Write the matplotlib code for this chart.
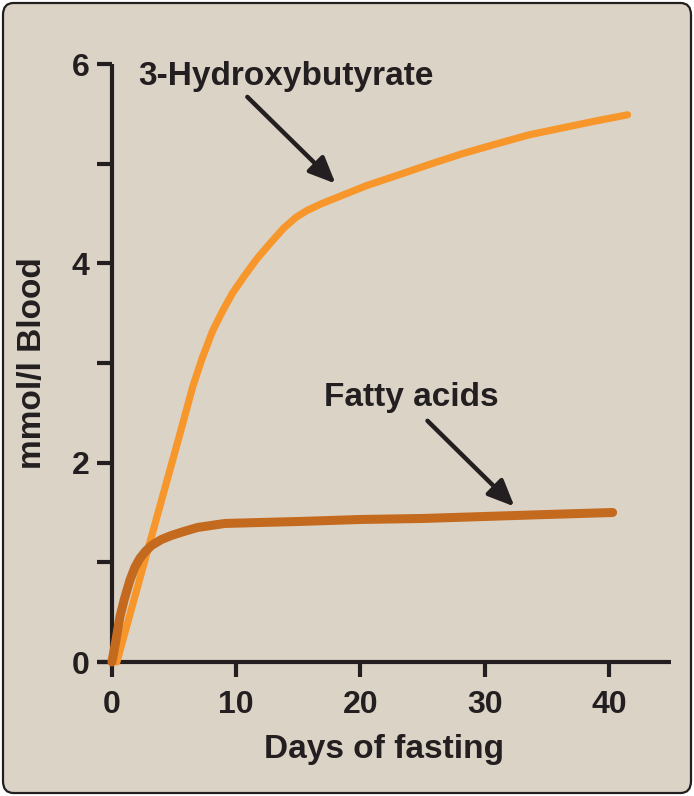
import matplotlib
matplotlib.use("Agg")
import matplotlib.pyplot as plt
from matplotlib.patches import FancyBboxPatch

# ---- data ----
hb_days = [0.4, 1.5, 2.5, 3.5, 4.5, 5.5, 6.5, 7.3, 8.1, 8.9, 9.7, 10.7, 11.7, 12.8,
           13.8, 14.8, 15.7, 16.9, 18.1, 20.5, 22.9, 25.5, 28.2, 31.0, 33.6, 36.3,
           39.0, 41.5]
hb_vals = [0.0, 0.50, 0.95, 1.40, 1.85, 2.30, 2.76, 3.06, 3.32, 3.52, 3.70, 3.88,
           4.05, 4.21, 4.35, 4.46, 4.53, 4.60, 4.66, 4.78, 4.88, 4.99, 5.10, 5.20,
           5.29, 5.36, 5.43, 5.49]
fa_days = [0.0, 0.3, 0.64, 1.0, 1.45, 1.85, 2.25, 2.7, 3.2, 4.0, 4.8, 5.8, 6.9, 8.0,
           9.1, 12.0, 15.1, 20.0, 25.0, 30.0, 35.0, 40.3]
fa_vals = [0.0, 0.20, 0.45, 0.63, 0.82, 0.95, 1.04, 1.11, 1.17, 1.23, 1.27, 1.31,
           1.35, 1.37, 1.39, 1.40, 1.41, 1.43, 1.44, 1.46, 1.48, 1.50]

x_ticks = [0, 10, 20, 30, 40]
y_major = [0, 2, 4, 6]
y_minor = [1, 3, 5]
x_label = "Days of fasting"
y_label = "mmol/l Blood"
hb_name = "3-Hydroxybutyrate"
fa_name = "Fatty acids"

BG = "#DCD3C7"
DARK = "#231F20"
ORANGE = "#F7962A"
BROWN = "#C46A1E"
FONT = ["Liberation Sans", "DejaVu Sans"]

W, H = 694, 796
fig = plt.figure(figsize=(W / 100, H / 100), dpi=100)
fig.patch.set_facecolor("white")

frame = FancyBboxPatch((3 / W, 3 / H), (W - 6) / W, (H - 6) / H,
                       boxstyle="round,pad=0,rounding_size=0.015",
                       transform=fig.transFigure, facecolor=BG, edgecolor=DARK,
                       linewidth=1.6, zorder=-10)
fig.patches.append(frame)

ax = fig.add_axes([97 / W, (H - 662) / H, (671 - 97) / W, (662 - 64) / H])
ax.set_facecolor("none")
ax.set_xlim(-1.2, 45)
ax.set_ylim(0, 6)

for s in ["top", "right"]:
    ax.spines[s].set_visible(False)
ax.spines["left"].set_position(("data", 0))
for s in ["left", "bottom"]:
    ax.spines[s].set_linewidth(3.0)
    ax.spines[s].set_color(DARK)
    ax.spines[s].set_capstyle("butt")

ax.plot(hb_days, hb_vals, color=ORANGE, lw=5.2, solid_capstyle="round",
        solid_joinstyle="round", zorder=3, clip_on=False)
ax.plot(fa_days, fa_vals, color=BROWN, lw=6.5, solid_capstyle="round",
        solid_joinstyle="round", zorder=4, clip_on=False)

ax.set_xticks(x_ticks)
ax.set_yticks(y_major)
ax.set_yticks(y_minor, minor=True)
ax.tick_params(axis="both", which="both", direction="out", length=11, width=3.0,
               color=DARK)
ax.tick_params(axis="x", pad=9)
ax.tick_params(axis="y", pad=5)
for lab in ax.get_xticklabels() + ax.get_yticklabels():
    lab.set_fontfamily(FONT)
    lab.set_fontweight("bold")
    lab.set_fontsize(23)
    lab.set_color(DARK)

ax.set_xlabel(x_label, fontsize=24, fontweight="bold", family=FONT, color=DARK,
              labelpad=10)
ax.set_ylabel(y_label, fontsize=24, fontweight="bold", family=FONT, color=DARK)
ax.yaxis.set_label_coords((33 - 97) / (671 - 97), 0.5)
ax.yaxis.label.set_verticalalignment("center")

ax.text(2.1, 5.87, hb_name, fontsize=24, fontweight="bold", family=FONT,
        color=DARK, ha="left", va="center")
ax.text(17.1, 2.65, fa_name, fontsize=24, fontweight="bold", family=FONT,
        color=DARK, ha="left", va="center")

arrow = dict(arrowstyle="-|>,head_length=1.6,head_width=0.7", lw=3.2,
             color=DARK, shrinkA=0, shrinkB=0)
ax.annotate("", xy=(18.0, 4.80), xytext=(10.9, 5.67), arrowprops=arrow)
ax.annotate("", xy=(32.4, 1.56), xytext=(25.4, 2.42), arrowprops=arrow)

fig.savefig("out.png", dpi=100, facecolor=fig.get_facecolor())
